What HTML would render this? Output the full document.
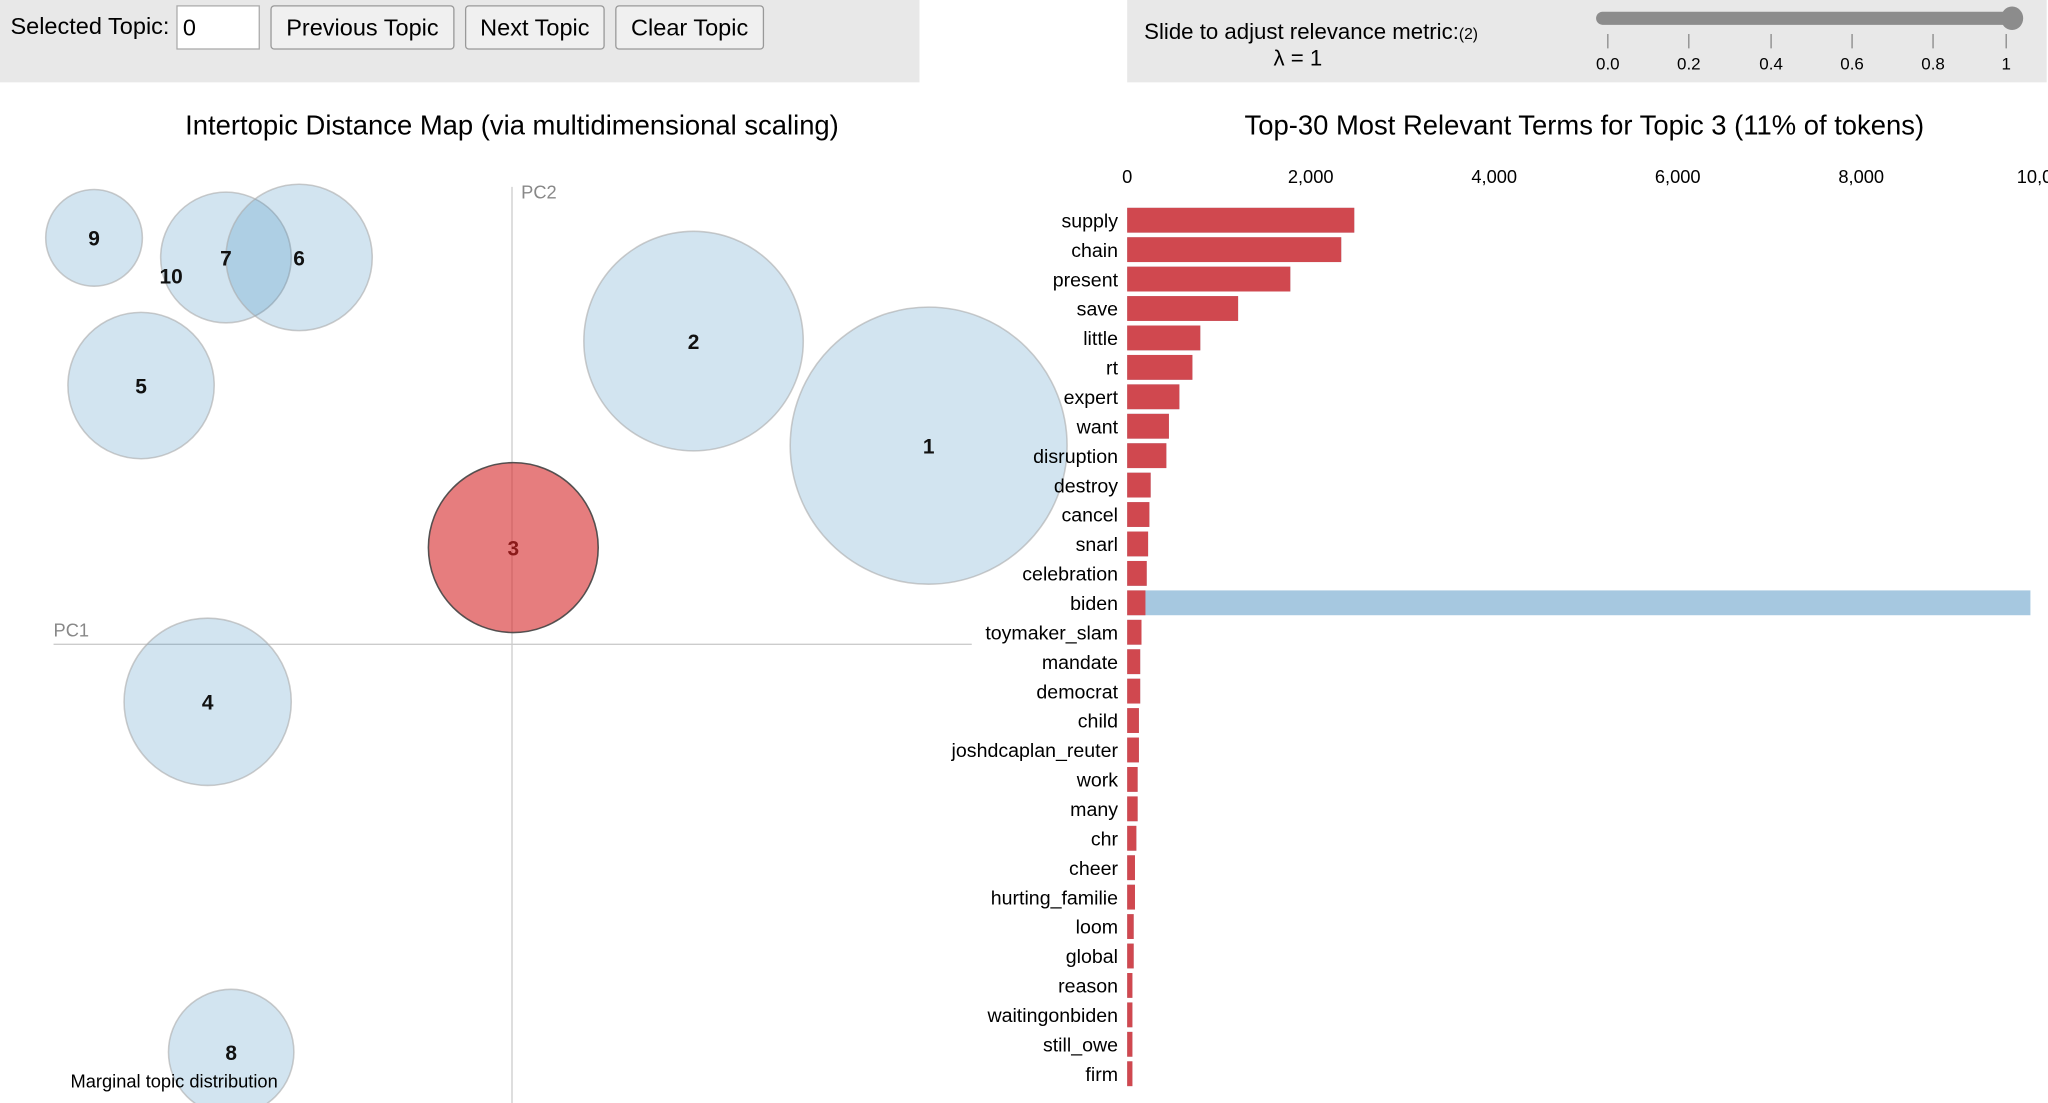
<!DOCTYPE html>
<html><head><meta charset="utf-8">
<style>
html,body{margin:0;padding:0;background:#fff;overflow:hidden}
#wrap{width:2048px;height:1103px;overflow:hidden;position:relative}
#stage{position:absolute;left:0;top:0;width:1568px;height:844px;transform-origin:0 0;transform:scale(1.30612,1.3069);font-family:"Liberation Sans",Arial,sans-serif;color:#000}
.panel{position:absolute;background:#e8e8e8;top:0;height:63px}
.btn{position:absolute;top:4px;height:34px;border:1px solid #999;border-radius:3px;background:#f0f0f0;font-size:18px;line-height:32px;text-align:center;box-sizing:border-box}
</style></head><body>
<div id="wrap">
<div id="stage">
  <div class="panel" style="left:0;width:704px">
    <span style="position:absolute;left:8px;top:10px;font-size:18px">Selected Topic:</span>
    <div style="position:absolute;left:135px;top:4px;width:64px;height:34px;background:#fff;border:1px solid #aaa;box-sizing:border-box;font-size:18px;line-height:32px;padding-left:4px">0</div>
    <div class="btn" style="left:207px;width:141px">Previous Topic</div>
    <div class="btn" style="left:356px;width:107px">Next Topic</div>
    <div class="btn" style="left:471px;width:114px">Clear Topic</div>
  </div>
  <div class="panel" style="left:863px;width:704px">
    <span style="position:absolute;left:13px;top:15px;font-size:17px">Slide to adjust relevance metric:<span style="font-size:12px">(2)</span></span>
    <span style="position:absolute;left:112px;top:35px;font-size:17px">λ = 1</span>
    <div style="position:absolute;left:359px;top:9px;width:324px;height:10px;background:#8c8c8c;border-radius:5px"></div>
    <div style="position:absolute;left:669px;top:5px;width:17px;height:18px;background:#8c8c8c;border-radius:50%"></div>
    <svg style="position:absolute;left:0;top:0" width="704" height="63">
      <g stroke="#888" stroke-width="1">
        <line x1="368" y1="26" x2="368" y2="37"/><line x1="430" y1="26" x2="430" y2="37"/><line x1="493" y1="26" x2="493" y2="37"/><line x1="555" y1="26" x2="555" y2="37"/><line x1="617" y1="26" x2="617" y2="37"/><line x1="673" y1="26" x2="673" y2="37"/>
      </g>
      <g font-size="13" text-anchor="middle" font-family="Liberation Sans, sans-serif">
        <text x="368" y="53">0.0</text><text x="430" y="53">0.2</text><text x="493" y="53">0.4</text><text x="555" y="53">0.6</text><text x="617" y="53">0.8</text><text x="673" y="53">1</text>
      </g>
    </svg>
  </div>
  <svg id="chart" style="position:absolute;left:0;top:0" width="1568" height="844" font-family="Liberation Sans, sans-serif"></svg>
</div>
</div>
<script>
const topicIds=[9,7,6,5,2,1,3,4,8,10];
const topicX=[72,173,229,108,531,711,393,159,177,131];
const topicY=[182,197,197,295,261,341,419,537,805,211];
const topicR=[37,50,56,56,84,106,65,64,48,0];
const terms=["supply","chain","present","save","little","rt","expert","want","disruption","destroy","cancel","snarl","celebration","biden","toymaker_slam","mandate","democrat","child","joshdcaplan_reuter","work","many","chr","cheer","hurting_familie","loom","global","reason","waitingonbiden","still_owe","firm"];
const topicFreq=[2475,2333,1778,1209,797,711,569,455,427,256,242,228,213,199,156,142,142,128,128,114,114,100,85,85,71,71,57,57,57,57];
const totalFreq=[2475,2333,1778,1209,797,711,569,455,427,256,242,228,213,9844,156,142,142,128,128,114,114,100,85,85,71,71,57,57,57,57];
const xTicks=[0,2000,4000,6000,8000,10000];
const xTickLabels=["0","2,000","4,000","6,000","8,000","10,000"];

const NS="http://www.w3.org/2000/svg";
const svg=document.getElementById('chart');
function mk(tag,attrs,parent){const e=document.createElementNS(NS,tag);for(const k in attrs)e.setAttribute(k,attrs[k]);(parent||svg).appendChild(e);return e;}
function txt(s,attrs){const e=mk('text',attrs);e.textContent=s;return e;}

let t=txt("Intertopic Distance Map (via multidimensional scaling)",{x:392,y:103,'font-size':21,'text-anchor':'middle'});


t=txt("Top-30 Most Relevant Terms for Topic 3 (11% of tokens)",{x:1213,y:103,'font-size':21,'text-anchor':'middle'});



let l=mk('line',{x1:392,y1:143,x2:392,y2:844,stroke:'#ccc','stroke-width':1});


l=mk('line',{x1:41,y1:493,x2:744,y2:493,stroke:'#ccc','stroke-width':1});


t=txt("PC2",{x:399,y:152,'font-size':14,fill:'#888'});


t=txt("PC1",{x:41,y:487,'font-size':14,fill:'#888'});



topicIds.forEach((id,i)=>{
  const sel=id===3;
  const c=mk('circle',{cx:topicX[i],cy:topicY[i],r:topicR[i],fill:sel?'#d62728':'#1f77b4','fill-opacity':sel?0.6:0.2,stroke:sel?'#444':'#aaa','stroke-width':1.2,'stroke-opacity':sel?0.9:0.6});
  
  
});
topicIds.forEach((id,i)=>{
  const tl=txt(String(id),{x:topicX[i],y:topicY[i]+6,'font-size':16,'font-weight':'bold','text-anchor':'middle',fill:id===3?'#8b1a1a':'#111'});
  
  
});
t=txt("Marginal topic distribution",{x:54,y:832,'font-size':14});



const x0=863, pxPer=562/8000;
const xs=v=>x0+v*pxPer;
const rowY=i=>159+i*22.52;
const barH=19;
xTicks.forEach((v,i)=>{
  const tk=txt(xTickLabels[i],{x:xs(v),y:140,'font-size':14,'text-anchor':'middle'});
  
  
});
terms.forEach((term,i)=>{
  const b=mk('rect',{x:x0,y:rowY(i),width:xs(totalFreq[i])-x0,height:barH,fill:'#a6c8e0'});
  
  
  const r=mk('rect',{x:x0,y:rowY(i),width:xs(topicFreq[i])-x0,height:barH,fill:'#d0484f'});
  
  
  const lb=txt(term,{x:856,y:rowY(i)+15,'font-size':15,'text-anchor':'end'});
  
  
});
</script>
</body></html>
